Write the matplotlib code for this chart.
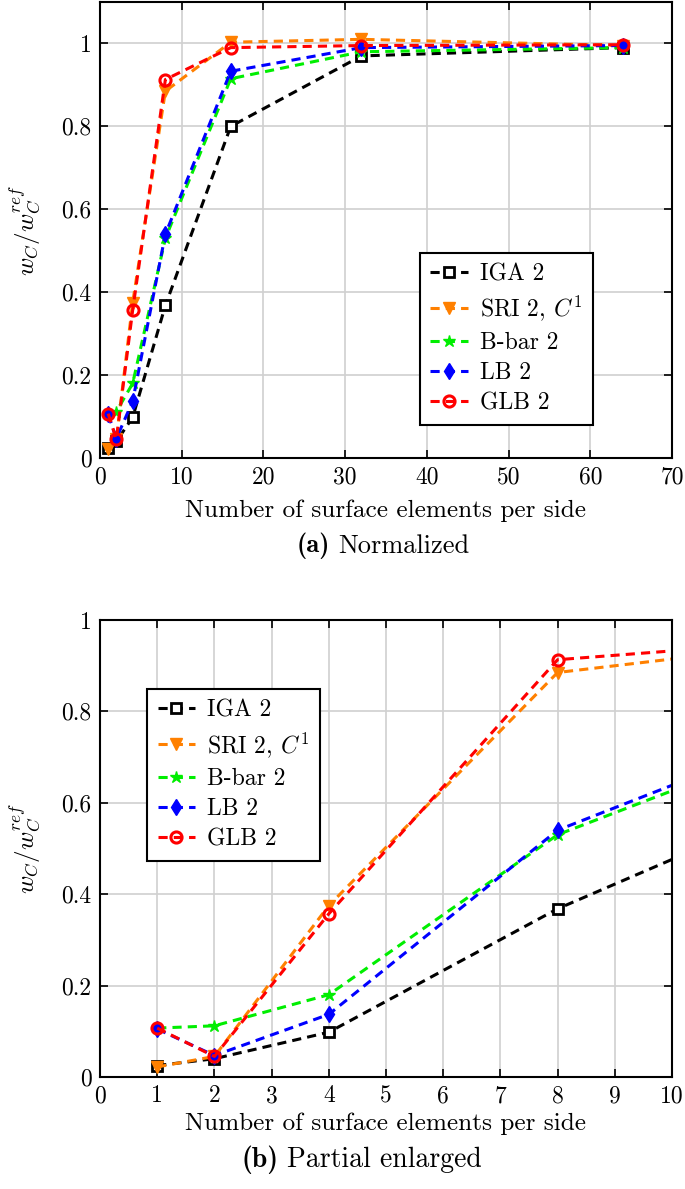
import matplotlib
matplotlib.use("Agg")
import matplotlib.pyplot as plt
import numpy as np

plt.rcParams['font.family'] = ['cmr10', 'DejaVu Serif']
plt.rcParams['mathtext.fontset'] = 'cm'
plt.rcParams['axes.formatter.use_mathtext'] = True

# elements per side
n_elem = [1, 2, 4, 8, 16, 32, 64]

# normalized displacement w_C / w_C^ref
iga2 = [0.025, 0.040, 0.098, 0.368, 0.800, 0.970, 0.990]
sri2 = [0.022, 0.045, 0.375, 0.885, 1.003, 1.010, 0.995]
bbar2 = [0.107, 0.112, 0.180, 0.530, 0.915, 0.980, 0.990]
lb2 = [0.105, 0.047, 0.137, 0.540, 0.933, 0.990, 0.995]
glb2 = [0.107, 0.045, 0.357, 0.913, 0.990, 0.995, 0.997]

labels = ["IGA 2", r"SRI 2, $C^1$", "B-bar 2", "LB 2", "GLB 2"]
series = [iga2, sri2, bbar2, lb2, glb2]
styles = [
    dict(color="black", marker="s", mfc="white", mec="black", ms=7, mew=2),
    dict(color="#ff8000", marker="v", mfc="#ff8000", mec="#ff8000", ms=8, mew=1),
    dict(color="#00ee00", marker="*", mfc="#00ee00", mec="#00ee00", ms=9, mew=1),
    dict(color="blue", marker="d", mfc="blue", mec="blue", ms=8, mew=1),
    dict(color="red", marker="o", mfc="none", mec="red", ms=8, mew=2.2),
]


def draw(ax, xlim, ylim, xticks, yticks, legend_anchor, xlab_y):
    for vals, lab, st in zip(series, labels, styles):
        ax.plot(n_elem, vals, ls="--", lw=2.2, dashes=(3, 2), label=lab, **st)
    ax.set_xlim(*xlim)
    ax.set_ylim(*ylim)
    ax.set_xticks(xticks)
    ax.set_yticks(yticks)
    ax.set_yticklabels(["%g" % t for t in yticks])
    ax.set_xticklabels(["%g" % t for t in xticks])
    ax.grid(True, color="#d0d0d0", lw=1.2)
    ax.set_axisbelow(True)
    ax.tick_params(direction="in", top=True, right=True, length=6, width=1.2,
                   labelsize=17, pad=6)
    for sp in ax.spines.values():
        sp.set_linewidth(1.5)
    ax.set_xlabel("Number of surface elements per side", fontsize=18.2, va="center")
    ax.xaxis.set_label_coords(0.5, xlab_y)
    ax.set_ylabel(r"$w_C/w_C^{ref}$", fontsize=18, va="center")
    ax.yaxis.set_label_coords(-0.131, 0.5)
    leg = ax.legend(loc="upper left", bbox_to_anchor=legend_anchor, fontsize=17,
                    fancybox=False, edgecolor="black", framealpha=1,
                    handlelength=1.6, handletextpad=0.5, borderpad=0.45,
                    labelspacing=0.35, borderaxespad=0)
    leg.get_frame().set_linewidth(1.5)
    return ax


def caption(x0, y, tag, text, size):
    # bold tag, then the plain caption text
    fig.text(x0 / 685, 1 - y / 1189, tag, fontsize=size, family="cmb10",
             ha="right", va="center")
    fig.text((x0 + 8) / 685, 1 - y / 1189, text, fontsize=size,
             ha="left", va="center")


fig = plt.figure(figsize=(6.85, 11.89), dpi=100)
ax1 = fig.add_axes([0.146, 0.6148, 0.835, 0.3835])
ax2 = fig.add_axes([0.146, 0.0942, 0.835, 0.3844])

draw(ax1, (0, 70), (0, 1.1), range(0, 71, 10), [0, 0.2, 0.4, 0.6, 0.8, 1],
     (0.559, 0.45), -0.116)
draw(ax2, (0, 10), (0, 1), range(0, 11), [0, 0.2, 0.4, 0.6, 0.8, 1],
     (0.082, 0.849), -0.103)

caption(330, 546, "(a)", "Normalized", 19)
caption(279, 1160, "(b)", "Partial enlarged", 20)

fig.savefig("out.png", dpi=100)
